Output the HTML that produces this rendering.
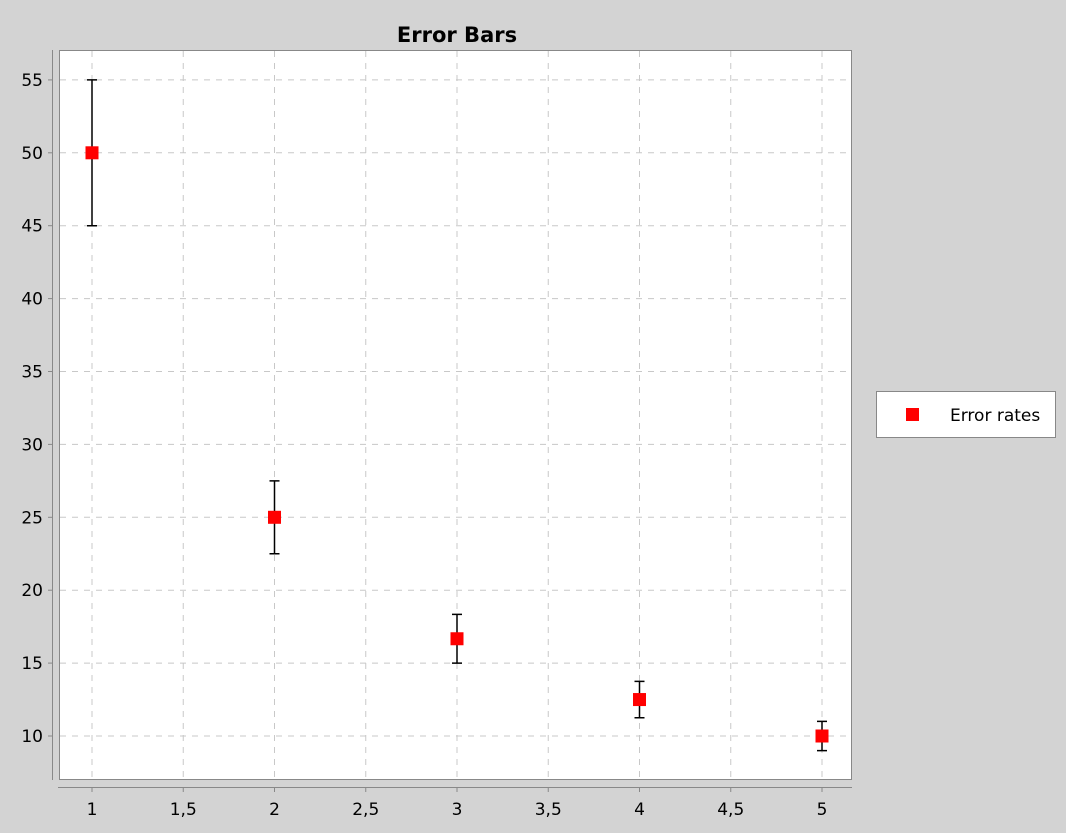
<!DOCTYPE html>
<html><head><meta charset="utf-8"><style>
body{margin:0;background:#d3d3d3;}
svg{display:block;font-family:"DejaVu Sans","Liberation Sans",sans-serif;}
</style></head><body>
<svg id="chart" width="1066" height="833" viewBox="0 0 1066 833">
<rect width="1066" height="833" fill="#d3d3d3"/>
<text x="457" y="42" text-anchor="middle" font-size="21" font-weight="bold">Error Bars</text>
<rect x="59.5" y="50.5" width="792" height="729" fill="#fff" stroke="#888"/>
<g id="grid"></g>
<line x1="52.5" y1="50" x2="52.5" y2="780" stroke="#888"/>
<line x1="58" y1="787.5" x2="852" y2="787.5" stroke="#888"/>
<g id="ticks"></g>
<g id="marks"></g>
<g>
<rect x="876.5" y="391.5" width="179" height="46" fill="#fff" stroke="#888"/>
<rect x="906" y="408" width="13" height="13" fill="#f00"/>
<text x="950" y="421" font-size="17">Error rates</text>
</g>
</svg>
<script>
const xs = [1, 2, 3, 4, 5];
const values = [50, 25, 16.67, 12.5, 10];
const errors = [5, 2.5, 1.67, 1.25, 1];
const xTicks = [1, 1.5, 2, 2.5, 3, 3.5, 4, 4.5, 5];
const xTickLabels = ["1", "1,5", "2", "2,5", "3", "3,5", "4", "4,5", "5"];
const yTicks = [10, 15, 20, 25, 30, 35, 40, 45, 50, 55];
const NS = "http://www.w3.org/2000/svg";
function sx(v){return 92 + (v-1)*182.5;}
function sy(v){return 736 - (v-10)*72.9/5;}
function mk(tag, attrs, parent){const e=document.createElementNS(NS,tag);for(const k in attrs)e.setAttribute(k,attrs[k]);document.getElementById(parent).appendChild(e);return e;}
xTicks.forEach((t,i)=>{
  const g=mk('line',{x1:sx(t),x2:sx(t),y1:51,y2:779,stroke:'#c8c8c8','stroke-dasharray':'6,6'},'grid');
  
  
  const tk=mk('line',{x1:sx(t),x2:sx(t),y1:788,y2:792,stroke:'#888'},'ticks');
  
  
  const lb=mk('text',{x:sx(t),y:815,'text-anchor':'middle','font-size':'17'},'ticks');
  lb.textContent=xTickLabels[i];
  
  
});
yTicks.forEach(t=>{
  const g=mk('line',{x1:60,x2:851,y1:sy(t),y2:sy(t),stroke:'#c8c8c8','stroke-dasharray':'6,6'},'grid');
  
  
  const tk=mk('line',{x1:48,x2:52,y1:sy(t),y2:sy(t),stroke:'#888'},'ticks');
  
  
  const lb=mk('text',{x:43,y:sy(t)+6,'text-anchor':'end','font-size':'17'},'ticks');
  lb.textContent=String(t);
  
  
});
xs.forEach((x,i)=>{
  const cx=sx(x), top=sy(values[i]+errors[i]), bot=sy(values[i]-errors[i]);
  const eb=mk('path',{d:`M${cx},${top}V${bot}M${cx-5},${top}H${cx+5}M${cx-5},${bot}H${cx+5}`,stroke:'#000','stroke-width':1.5,fill:'none'},'marks');
  
  
  const p=mk('rect',{x:cx-6.5,y:sy(values[i])-6.5,width:13,height:13,fill:'#f00'},'marks');
  
  
});
</script>
</body></html>
